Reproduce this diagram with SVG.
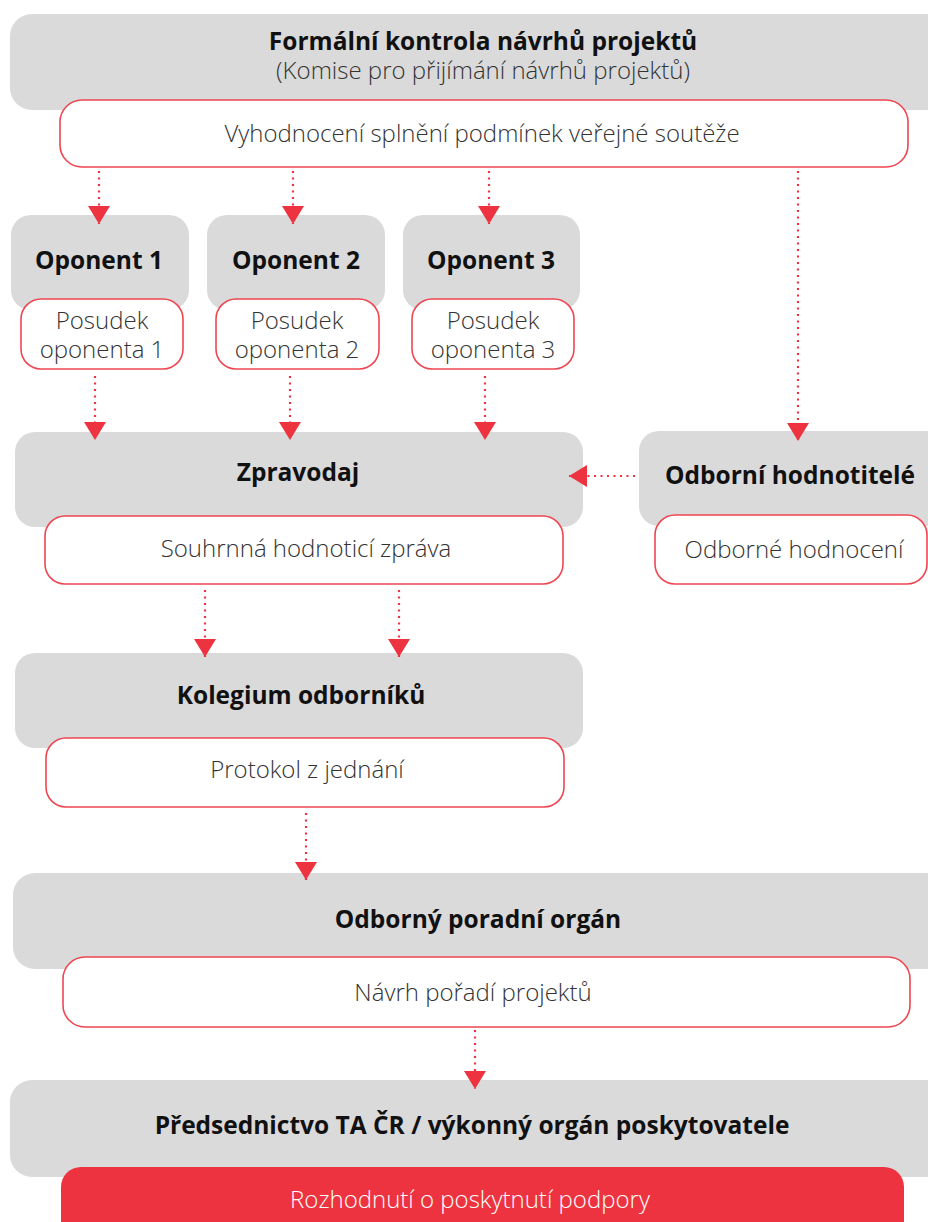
<svg xmlns="http://www.w3.org/2000/svg" width="928" height="1222" viewBox="0 0 928 1222">
<style>
.g{fill:#dadada}
.w{fill:#fff;stroke:#ee4651;stroke-width:1.6}
.r{fill:#ee3340}
.b{font-family:"Open Sans","Liberation Sans",sans-serif;font-weight:700;font-size:24.5px;fill:#111;text-anchor:middle}
.t{font-family:"Open Sans","Liberation Sans",sans-serif;font-weight:300;font-size:24px;fill:#333;text-anchor:middle}
.tw{font-family:"Open Sans","Liberation Sans",sans-serif;font-weight:300;font-size:24px;fill:#fff;text-anchor:middle}
.c{stroke:#ee3340;stroke-width:2.2;stroke-dasharray:2 4.5;fill:none}
</style>
<defs>
<marker id="ah" viewBox="0 0 18 22" refX="18" refY="11" markerWidth="18" markerHeight="22" markerUnits="userSpaceOnUse" orient="auto">
<path d="M0,0 L18,11 L0,22 Z" fill="#ee3340"/>
</marker>
</defs>
<rect width="928" height="1222" fill="#fff"/>

<g id="formalni">
<rect class="g" x="10" y="14" width="940" height="96" rx="22"/>
<text class="b" x="483" y="50">Formální kontrola návrhů projektů</text>
<text class="t" x="483" y="79">(Komise pro přijímání návrhů projektů)</text>
<rect class="w" x="60" y="100" width="848" height="67" rx="22"/>
<text class="t" x="482" y="142">Vyhodnocení splnění podmínek veřejné soutěže</text>
</g>

<g id="oponent1">
<rect class="g" x="11" y="215" width="178" height="95" rx="20"/>
<text class="b" x="99" y="269">Oponent 1</text>
<rect class="w" x="21" y="299" width="162" height="70" rx="20"/>
<text class="t" x="102" y="329">Posudek</text>
<text class="t" x="102" y="358">oponenta 1</text>
</g>

<g id="oponent2">
<rect class="g" x="207" y="215" width="178" height="95" rx="20"/>
<text class="b" x="296" y="269">Oponent 2</text>
<rect class="w" x="216" y="299" width="163" height="70" rx="20"/>
<text class="t" x="297" y="329">Posudek</text>
<text class="t" x="297" y="358">oponenta 2</text>
</g>

<g id="oponent3">
<rect class="g" x="403" y="215" width="177" height="95" rx="20"/>
<text class="b" x="491" y="269">Oponent 3</text>
<rect class="w" x="412" y="299" width="162" height="70" rx="20"/>
<text class="t" x="493" y="329">Posudek</text>
<text class="t" x="493" y="358">oponenta 3</text>
</g>

<g id="zpravodaj">
<rect class="g" x="15" y="432" width="568" height="95" rx="20"/>
<text class="b" x="298" y="481">Zpravodaj</text>
<rect class="w" x="45" y="516" width="518" height="68" rx="20"/>
<text class="t" x="306" y="557">Souhrnná hodnoticí zpráva</text>
</g>

<g id="odborni-hodnotitele">
<rect class="g" x="639" y="431" width="320" height="95" rx="20"/>
<text class="b" x="790" y="484">Odborní hodnotitelé</text>
<rect class="w" x="655" y="515" width="272" height="69" rx="20"/>
<text class="t" x="794" y="558">Odborné hodnocení</text>
</g>

<g id="kolegium">
<rect class="g" x="15" y="653" width="568" height="95" rx="20"/>
<text class="b" x="301" y="704">Kolegium odborníků</text>
<rect class="w" x="46" y="738" width="518" height="69" rx="20"/>
<text class="t" x="307" y="778">Protokol z jednání</text>
</g>

<g id="poradni-organ">
<rect class="g" x="13" y="873" width="940" height="96" rx="22"/>
<text class="b" x="478" y="928">Odborný poradní orgán</text>
<rect class="w" x="63" y="957" width="847" height="70" rx="22"/>
<text class="t" x="473" y="1001">Návrh pořadí projektů</text>
</g>

<g id="predsednictvo">
<rect class="g" x="10" y="1080" width="940" height="97" rx="22"/>
<text class="b" x="472" y="1134">Předsednictvo TA ČR / výkonný orgán poskytovatele</text>
<rect class="r" x="61" y="1167" width="843" height="80" rx="20"/>
<text class="tw" x="470" y="1208">Rozhodnutí o poskytnutí podpory</text>
</g>

<g id="connectors">
<line class="c" x1="99" y1="171" x2="99" y2="224" marker-end="url(#ah)"/>
<line class="c" x1="293" y1="171" x2="293" y2="224" marker-end="url(#ah)"/>
<line class="c" x1="489" y1="171" x2="489" y2="224" marker-end="url(#ah)"/>
<line class="c" x1="798" y1="171" x2="798" y2="441" marker-end="url(#ah)"/>
<line class="c" x1="95" y1="376" x2="95" y2="440" marker-end="url(#ah)"/>
<line class="c" x1="290" y1="376" x2="290" y2="440" marker-end="url(#ah)"/>
<line class="c" x1="485" y1="376" x2="485" y2="440" marker-end="url(#ah)"/>
<line class="c" x1="635" y1="476" x2="569" y2="476" marker-end="url(#ah)"/>
<line class="c" x1="205" y1="590" x2="205" y2="657" marker-end="url(#ah)"/>
<line class="c" x1="399" y1="590" x2="399" y2="657" marker-end="url(#ah)"/>
<line class="c" x1="306" y1="813" x2="306" y2="880" marker-end="url(#ah)"/>
<line class="c" x1="475" y1="1030" x2="475" y2="1089" marker-end="url(#ah)"/>
</g>
</svg>
